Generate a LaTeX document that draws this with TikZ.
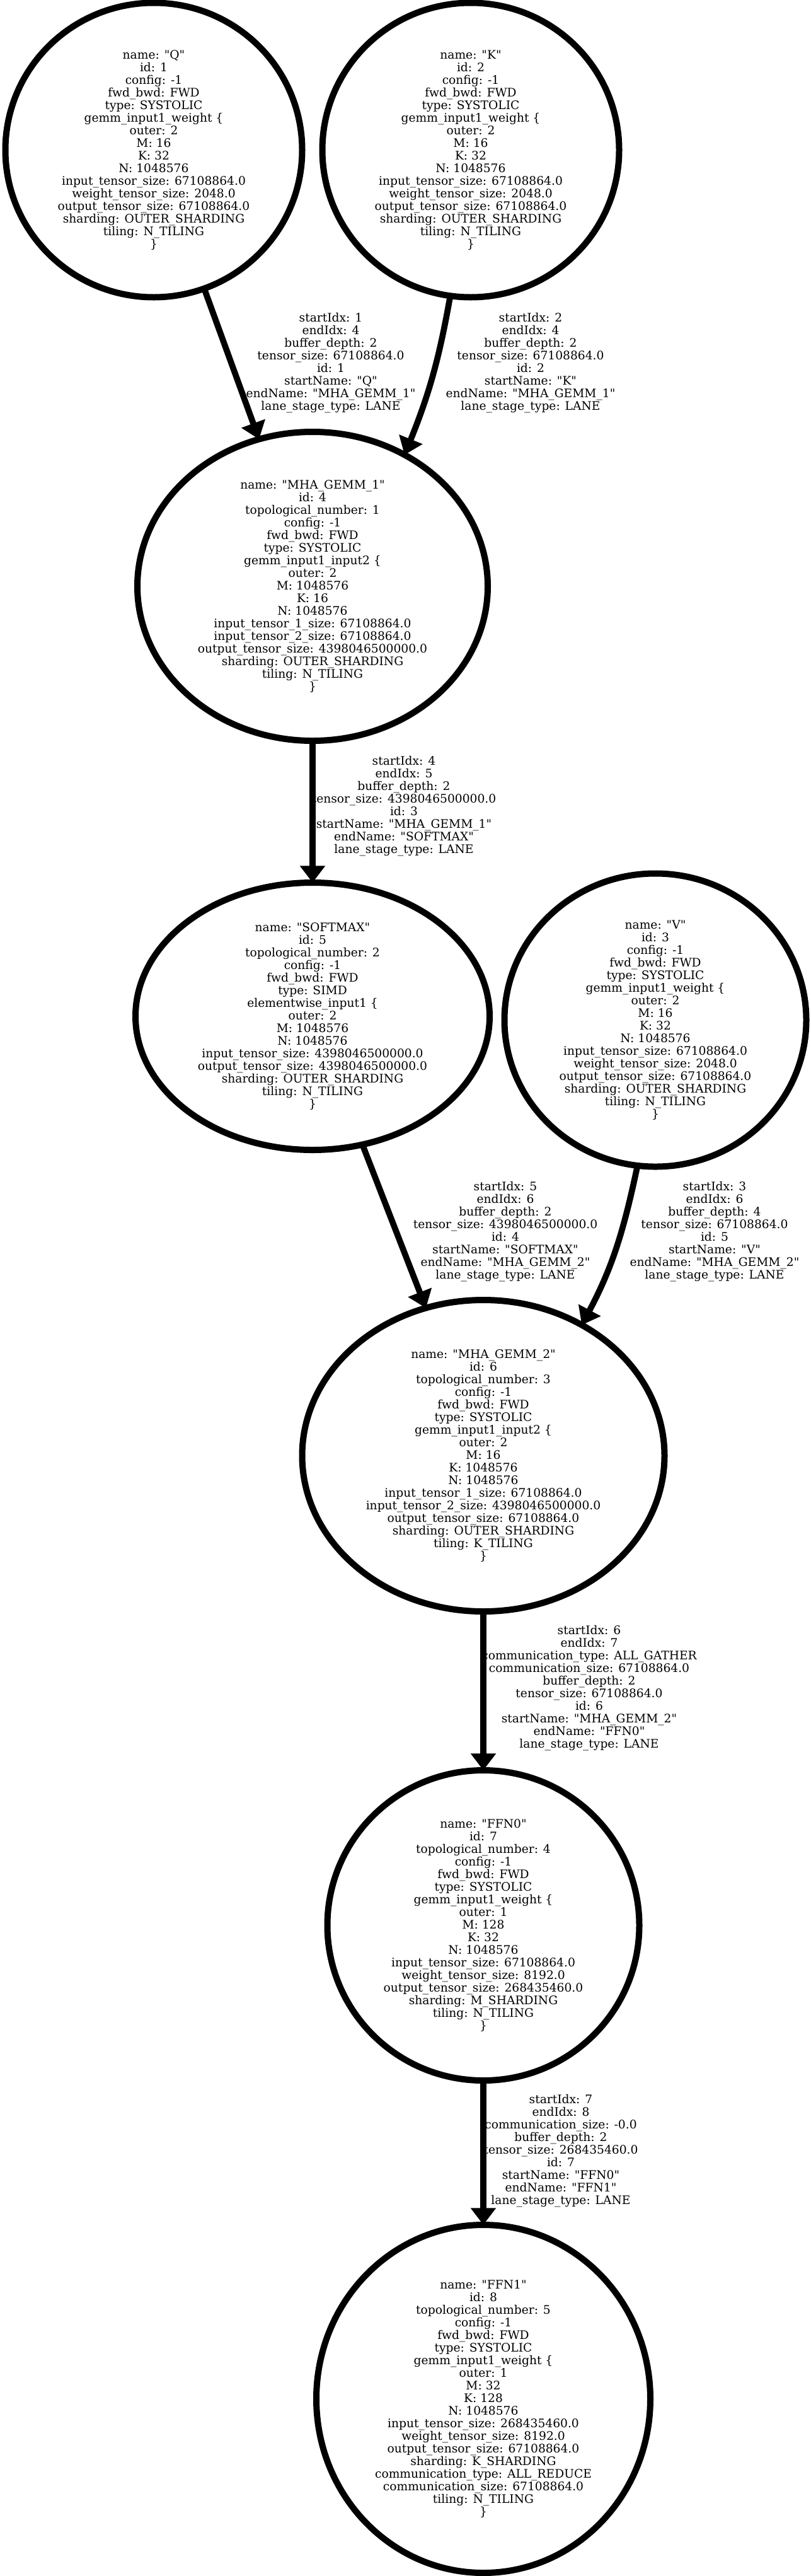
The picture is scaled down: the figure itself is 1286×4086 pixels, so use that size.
\documentclass[tikz,border=0pt]{standalone}
\usepackage{fontspec}
\setmainfont{DejaVu Serif}[Ligatures=TeXOff]
\usetikzlibrary{arrows.meta,shapes.geometric}

\begin{document}
\begin{tikzpicture}[
    x=0.75pt, y=0.75pt,
    op/.style 2 args={ellipse, draw, line width=7.5pt, inner sep=0pt, outer sep=0pt, align=center, minimum width=#1*0.75pt, minimum height=#2*0.75pt, font=\fontsize{14pt}{15pt}\selectfont},
    info/.style={align=center, inner sep=0pt, font=\fontsize{14pt}{15pt}\selectfont},
    arrow/.style={-{Triangle[length=20pt,width=29pt]}, line width=7.2pt}
]
\useasboundingbox (0,0) rectangle (1286,-4086);

% Projections
\node[op={471}{467}] (q) at (244,-238) {name: "Q"\\id: 1\\config: -1\\fwd\_bwd: FWD\\type: SYSTOLIC\\gemm\_input1\_weight \{\\outer: 2\\M: 16\\K: 32\\N: 1048576\\input\_tensor\_size: 67108864.0\\weight\_tensor\_size: 2048.0\\output\_tensor\_size: 67108864.0\\sharding: OUTER\_SHARDING\\tiling: N\_TILING\\\}};
\node[op={471}{467}] (k) at (747,-238) {name: "K"\\id: 2\\config: -1\\fwd\_bwd: FWD\\type: SYSTOLIC\\gemm\_input1\_weight \{\\outer: 2\\M: 16\\K: 32\\N: 1048576\\input\_tensor\_size: 67108864.0\\weight\_tensor\_size: 2048.0\\output\_tensor\_size: 67108864.0\\sharding: OUTER\_SHARDING\\tiling: N\_TILING\\\}};
\node[op={479}{465}] (v) at (1040,-1618) {name: "V"\\id: 3\\config: -1\\fwd\_bwd: FWD\\type: SYSTOLIC\\gemm\_input1\_weight \{\\outer: 2\\M: 16\\K: 32\\N: 1048576\\input\_tensor\_size: 67108864.0\\weight\_tensor\_size: 2048.0\\output\_tensor\_size: 67108864.0\\sharding: OUTER\_SHARDING\\tiling: N\_TILING\\\}};

% Attention
\node[op={556}{490}] (mha1) at (496,-930) {name: "MHA\_GEMM\_1"\\id: 4\\topological\_number: 1\\config: -1\\fwd\_bwd: FWD\\type: SYSTOLIC\\gemm\_input1\_input2 \{\\outer: 2\\M: 1048576\\K: 16\\N: 1048576\\input\_tensor\_1\_size: 67108864.0\\input\_tensor\_2\_size: 67108864.0\\output\_tensor\_size: 4398046500000.0\\sharding: OUTER\_SHARDING\\tiling: N\_TILING\\\}};
\node[op={562}{424}] (softmax) at (496,-1612) {name: "SOFTMAX"\\id: 5\\topological\_number: 2\\config: -1\\fwd\_bwd: FWD\\type: SIMD\\elementwise\_input1 \{\\outer: 2\\M: 1048576\\N: 1048576\\input\_tensor\_size: 4398046500000.0\\output\_tensor\_size: 4398046500000.0\\sharding: OUTER\_SHARDING\\tiling: N\_TILING\\\}};
\node[op={575}{494}] (mha2) at (767,-2309) {name: "MHA\_GEMM\_2"\\id: 6\\topological\_number: 3\\config: -1\\fwd\_bwd: FWD\\type: SYSTOLIC\\gemm\_input1\_input2 \{\\outer: 2\\M: 16\\K: 1048576\\N: 1048576\\input\_tensor\_1\_size: 67108864.0\\input\_tensor\_2\_size: 4398046500000.0\\output\_tensor\_size: 67108864.0\\sharding: OUTER\_SHARDING\\tiling: K\_TILING\\\}};

% Feed-forward
\node[op={495}{492}] (ffn0) at (767,-3054) {name: "FFN0"\\id: 7\\topological\_number: 4\\config: -1\\fwd\_bwd: FWD\\type: SYSTOLIC\\gemm\_input1\_weight \{\\outer: 1\\M: 128\\K: 32\\N: 1048576\\input\_tensor\_size: 67108864.0\\weight\_tensor\_size: 8192.0\\output\_tensor\_size: 268435460.0\\sharding: M\_SHARDING\\tiling: N\_TILING\\\}};
\node[op={530}{552}] (ffn1) at (767,-3805) {name: "FFN1"\\id: 8\\topological\_number: 5\\config: -1\\fwd\_bwd: FWD\\type: SYSTOLIC\\gemm\_input1\_weight \{\\outer: 1\\M: 32\\K: 128\\N: 1048576\\input\_tensor\_size: 268435460.0\\weight\_tensor\_size: 8192.0\\output\_tensor\_size: 67108864.0\\sharding: K\_SHARDING\\communication\_type: ALL\_REDUCE\\communication\_size: 67108864.0\\tiling: N\_TILING\\\}};

% Edge labels
\node[info] (lqm) at (525,-576) {startIdx: 1\\endIdx: 4\\buffer\_depth: 2\\tensor\_size: 67108864.0\\id: 1\\startName: "Q"\\endName: "MHA\_GEMM\_1"\\lane\_stage\_type: LANE};
\node[info] (lkm) at (842,-576) {startIdx: 2\\endIdx: 4\\buffer\_depth: 2\\tensor\_size: 67108864.0\\id: 2\\startName: "K"\\endName: "MHA\_GEMM\_1"\\lane\_stage\_type: LANE};
\node[info] (lms) at (641,-1279) {startIdx: 4\\endIdx: 5\\buffer\_depth: 2\\tensor\_size: 4398046500000.0\\id: 3\\startName: "MHA\_GEMM\_1"\\endName: "SOFTMAX"\\lane\_stage\_type: LANE};
\node[info] (lsm) at (802,-1954) {startIdx: 5\\endIdx: 6\\buffer\_depth: 2\\tensor\_size: 4398046500000.0\\id: 4\\startName: "SOFTMAX"\\endName: "MHA\_GEMM\_2"\\lane\_stage\_type: LANE};
\node[info] (lvm) at (1134,-1954) {startIdx: 3\\endIdx: 6\\buffer\_depth: 4\\tensor\_size: 67108864.0\\id: 5\\startName: "V"\\endName: "MHA\_GEMM\_2"\\lane\_stage\_type: LANE};
\node[info] (lmf) at (935,-2678) {startIdx: 6\\endIdx: 7\\communication\_type: ALL\_GATHER\\communication\_size: 67108864.0\\buffer\_depth: 2\\tensor\_size: 67108864.0\\id: 6\\startName: "MHA\_GEMM\_2"\\endName: "FFN0"\\lane\_stage\_type: LANE};
\node[info] (lff) at (890,-3412) {startIdx: 7\\endIdx: 8\\communication\_size: -0.0\\buffer\_depth: 2\\tensor\_size: 268435460.0\\id: 7\\startName: "FFN0"\\endName: "FFN1"\\lane\_stage\_type: LANE};

% Arrows
\draw[arrow] (q) -- (mha1);
\draw[arrow] (k.262) to[out=260, in=68] (mha1.55);
\draw[arrow] (mha1) -- (softmax);
\draw[arrow] (softmax) -- (mha2);
\draw[arrow] (v.263) to[out=258, in=62] (mha2.53);
\draw[arrow] (mha2) -- (ffn0);
\draw[arrow] (ffn0) -- (ffn1);

\end{tikzpicture}
\end{document}
